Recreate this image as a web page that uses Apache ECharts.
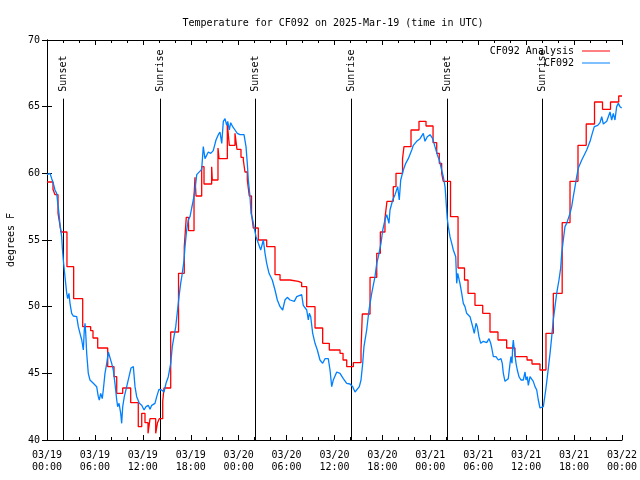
<!DOCTYPE html>
<html>
<head>
<meta charset="utf-8">
<script src="https://cdn.jsdelivr.net/npm/echarts@6/dist/echarts.min.js"></script>
<style>html,body{margin:0;padding:0;background:#fff}#c{width:640px;height:480px}</style>
</head>
<body>
<div id="c"></div>
<script>
// Hours since 2025-03-19 00:00 UTC
var analysisHours = [0,0.75,1.00,1.38,1.63,1.75,2.50,3.34,4.47,5.47,5.76,6.35,7.60,8.39,8.73,9.48,10.48,11.43,11.86,12.27,12.65,12.90,13.61,13.84,14.06,14.49,14.65,15.49,16.47,17.19,17.44,17.72,18.41,18.53,18.66,19.37,19.66,20.62,20.70,21.41,21.54,22.58,22.83,23.54,23.79,24.29,24.58,24.79,25.08,25.33,25.61,25.83,26.46,27.51,28.55,29.18,30.43,31.47,31.89,32.52,33.56,34.52,35.35,36.69,37.07,37.53,38.36,39.32,39.48,40.45,41.29,41.74,42.32,42.57,43.36,43.70,44.52,44.70,45.58,46.58,47.46,48.34,48.80,49.12,49.42,49.62,50.53,51.47,52.28,52.72,53.59,54.56,55.47,56.47,57.56,58.60,60.11,60.73,61.73,62.48,63.40,64.51,65.49,66.49,67.52,68.56,69.56,70.56,71.59,72.0];
var analysisTemps = [59.35,58.8,58.4,57.0,56.1,55.6,53.0,50.6,48.5,48.2,47.65,46.9,45.5,44.75,43.5,43.9,42.8,41.0,42.0,41.3,40.5,41.6,40.5,41.3,41.6,42.9,43.9,48.1,52.5,54.5,56.7,55.7,58.2,59.7,58.3,60.5,59.2,60.5,59.5,61.9,61.1,63.7,62.1,63.0,61.8,61.2,61.0,60.1,59.5,58.3,57.0,55.9,55.0,54.5,52.4,52.0,51.9,51.8,51.5,50.0,48.4,47.25,46.75,46.5,46.0,45.5,45.8,46.75,49.45,52.2,54.0,55.6,56.65,57.9,59.0,60.0,61.1,62.0,63.25,63.9,63.55,62.3,61.5,60.75,60.0,59.4,56.75,52.9,52.0,51.0,50.1,49.5,48.1,47.5,46.9,46.25,46.0,45.7,45.25,48.0,51.0,56.3,59.4,62.1,63.7,65.35,64.8,65.35,65.8,65.8];

var obsHours = [0,0.16,0.38,0.59,0.79,1.00,1.21,1.34,1.50,1.63,1.84,1.92,2.04,2.25,2.47,2.59,2.75,2.88,3.09,3.29,3.72,3.92,4.13,4.35,4.55,4.67,4.76,4.85,4.97,5.17,5.38,5.80,6.22,6.42,6.55,6.72,6.92,7.05,7.26,7.48,7.68,7.89,8.10,8.30,8.51,8.73,8.85,9.02,9.23,9.35,9.48,9.68,9.98,10.27,10.52,10.81,11.02,11.23,11.56,11.86,12.15,12.40,12.68,12.90,13.11,13.52,13.74,14.02,14.36,14.65,14.90,15.19,15.49,15.69,15.90,16.12,16.32,16.53,16.74,16.94,17.16,17.28,17.49,17.69,17.91,18.12,18.32,18.53,18.75,18.95,19.37,19.57,19.78,20.00,20.20,20.50,20.82,21.16,21.45,21.66,21.88,22.08,22.29,22.50,22.63,22.83,23.00,23.25,23.54,23.83,24.17,24.38,24.67,24.92,25.08,25.21,25.42,25.55,25.76,25.92,26.17,26.46,26.76,27.09,27.30,27.51,27.80,28.01,28.21,28.55,28.84,29.18,29.51,29.80,30.09,30.43,30.97,31.27,31.47,31.89,32.09,32.52,32.72,32.85,33.02,33.27,33.56,33.85,34.18,34.52,34.81,35.22,35.44,35.65,35.85,36.28,36.69,37.10,37.53,37.94,38.28,38.57,38.78,39.11,39.32,39.53,39.69,40.03,40.32,40.66,41.07,41.29,41.49,41.82,42.04,42.32,42.54,42.82,42.95,43.29,43.58,43.91,44.11,44.29,44.62,44.92,45.24,45.67,45.87,46.08,46.29,46.71,47.12,47.33,47.62,47.96,48.30,48.58,48.87,49.12,49.42,49.62,49.84,49.96,50.12,50.25,50.46,50.68,50.88,51.18,51.30,51.43,51.59,51.71,51.93,52.13,52.34,52.55,52.75,52.97,53.18,53.30,53.50,53.72,53.88,54.09,54.31,54.63,55.06,55.35,55.56,55.69,55.89,56.22,56.51,56.85,57.01,57.14,57.35,57.56,57.76,57.98,58.10,58.23,58.31,58.39,58.52,58.73,58.89,59.10,59.35,59.64,59.86,59.98,60.14,60.27,60.48,60.69,60.89,61.11,61.32,61.52,61.73,61.86,62.15,62.45,62.70,62.99,63.20,63.40,63.61,63.82,64.11,64.32,64.45,64.65,64.86,65.07,65.28,65.49,65.70,65.90,66.12,66.33,66.53,66.96,67.29,67.58,68.00,68.28,68.53,68.96,69.25,69.46,69.66,69.87,70.09,70.29,70.50,70.71,70.91,71.12,71.33,71.54,71.75,71.96,72.0];
var obsTemps = [59.9,60.05,60.0,59.6,59.25,58.75,58.5,57.8,57.0,56.1,55.25,54.4,53.5,52.25,51.0,50.6,51.0,50.25,49.5,49.3,49.25,48.5,48.0,47.5,46.75,48.25,48.75,48.0,46.5,45.0,44.5,44.25,44.0,43.25,43.0,43.5,43.1,43.75,45.0,45.75,46.6,46.5,45.75,45.25,44.25,43.0,42.5,42.75,42.0,41.25,42.5,43.25,44.0,44.75,45.4,45.5,44.0,43.25,42.75,42.6,42.25,42.5,42.6,42.3,42.6,42.75,43.25,43.8,43.75,43.6,44.25,44.75,45.75,47.0,47.75,48.5,49.6,50.75,51.75,52.5,53.5,54.5,55.75,56.5,56.75,57.4,58.0,58.75,59.9,59.95,60.3,62.0,61.1,61.0,61.6,61.5,61.7,62.5,62.9,63.1,62.25,63.9,64.1,63.6,63.9,63.25,63.8,63.5,63.25,63.0,62.9,63.0,62.9,62.0,60.75,59.5,58.25,57.0,56.5,56.0,55.25,54.75,54.25,55.0,54.0,53.25,52.5,52.6,52.0,51.25,50.5,50.0,49.75,50.5,50.7,50.5,50.4,50.75,50.9,50.9,50.1,49.75,49.0,49.5,49.25,48.0,47.25,46.75,46.0,45.75,46.1,46.1,45.25,44.0,44.5,45.1,45.0,44.6,44.25,44.2,44.0,43.6,43.5,44.0,44.5,45.75,47.0,48.25,49.75,51.0,52.25,53.25,53.75,54.75,55.75,56.5,56.9,56.25,57.25,58.0,58.4,59.0,58.0,59.5,60.25,60.75,61.1,61.75,62.1,62.0,62.4,62.6,63.0,62.4,62.75,62.9,62.6,62.0,61.4,61.0,60.25,59.75,59.0,58.0,56.6,56.0,55.25,54.75,54.25,53.75,51.75,52.5,52.4,51.75,51.0,50.25,50.0,49.5,49.4,49.25,49.4,48.5,48.0,48.75,48.5,47.75,47.25,47.4,47.3,47.6,47.25,46.9,46.25,46.25,46.0,46.1,45.75,45.0,44.4,44.5,44.6,45.75,46.25,45.75,47.0,47.5,46.75,45.75,45.25,44.75,44.5,44.5,45.1,44.5,44.75,44.1,44.75,44.6,44.4,44.0,43.75,43.0,42.4,42.3,42.5,43.75,45.0,46.5,47.75,49.0,50.0,51.0,52.0,52.9,54.0,55.0,56.0,56.25,56.4,57.0,57.5,58.25,59.0,59.75,60.4,61.0,61.4,61.75,62.4,63.0,63.5,63.6,63.8,64.25,63.7,63.55,63.9,64.25,64.6,64.0,64.5,64.0,65.0,65.25,65.0,64.9,64.9];

var sunEventHours = [2.05, 14.12, 26.08, 38.07, 50.11, 62.02];
var sunEventLabels = ['Sunset', 'Sunrise', 'Sunset', 'Sunrise', 'Sunset', 'Sunrise'];
var sunLineTop = 65.6;

var xTickLabels = ['03/19\n00:00','03/19\n06:00','03/19\n12:00','03/19\n18:00','03/20\n00:00','03/20\n06:00','03/20\n12:00','03/20\n18:00','03/21\n00:00','03/21\n06:00','03/21\n12:00','03/21\n18:00','03/22\n00:00'];

var FONT = 'DejaVu Sans Mono';

function zip(a, b) { return a.map(function (v, i) { return [v, b[i]]; }); }

var chart = echarts.init(document.getElementById('c'), null, { renderer: 'canvas' });

var xBase = {
  type: 'value', min: 0, max: 72, interval: 6,
  axisLine: { show: true, lineStyle: { color: '#000', width: 1 } },
  axisTick: { show: true, inside: true, length: 5, lineStyle: { color: '#000' } },
  minorTick: { show: true, splitNumber: 3, length: 3, lineStyle: { color: '#000' } },
  splitLine: { show: false }
};
var yBase = {
  type: 'value', min: 40, max: 70, interval: 5,
  axisLine: { show: true, lineStyle: { color: '#000', width: 1 } },
  axisTick: { show: true, inside: true, length: 5, lineStyle: { color: '#000' } },
  splitLine: { show: false }
};

var option = {
  animation: false,
  backgroundColor: '#fff',
  title: {
    text: 'Temperature for CF092 on 2025-Mar-19 (time in UTC)',
    left: 328, top: 13, textAlign: 'center',
    textStyle: { fontFamily: FONT, fontSize: 10, fontWeight: 'normal', color: '#000' }
  },
  legend: {
    orient: 'vertical', right: 30, top: 46, align: 'right', padding: 0,
    itemWidth: 28, itemHeight: 1, itemGap: 2, icon: 'rect',
    textStyle: { fontFamily: FONT, fontSize: 10, color: '#000', padding: [0, 3, 0, 0] },
    data: ['CF092 Analysis', 'CF092']
  },
  grid: { left: 47, right: 18, top: 40, bottom: 40, containLabel: false, outerBoundsMode: 'none' },
  xAxis: [
    Object.assign({}, xBase, {
      position: 'bottom',
      axisLabel: {
        show: true, margin: 9, fontFamily: FONT, fontSize: 10, color: '#000', lineHeight: 12,
        formatter: function (v) { return xTickLabels[Math.round(v / 6)]; }
      }
    }),
    Object.assign({}, xBase, { position: 'top', axisLabel: { show: false } })
  ],
  yAxis: [
    Object.assign({}, yBase, {
      position: 'left',
      name: 'degrees F', nameLocation: 'middle', nameGap: 31, nameRotate: 90,
      nameTextStyle: { fontFamily: FONT, fontSize: 10, color: '#000' },
      axisLabel: { show: true, margin: 7, fontFamily: FONT, fontSize: 10, color: '#000' }
    }),
    Object.assign({}, yBase, { position: 'right', axisLabel: { show: false } })
  ],
  series: [
    {
      type: 'custom', name: 'sun', silent: true, z: 1,
      xAxisIndex: 0, yAxisIndex: 0,
      data: sunEventHours.map(function (h, i) { return [h, i]; }),
      renderItem: function (params, api) {
        var h = api.value(0);
        var i = api.value(1);
        var top = api.coord([h, sunLineTop]);
        var bot = api.coord([h, 40]);
        var px = Math.round(top[0]) + 0.5;
        return {
          type: 'group',
          children: [
            { type: 'line', shape: { x1: px, y1: top[1], x2: px, y2: bot[1] }, style: { stroke: '#000', lineWidth: 1 } },
            { type: 'text', x: px, y: top[1] - 7, rotation: Math.PI / 2,
              style: { text: sunEventLabels[i], fill: '#000', font: '10px ' + FONT, align: 'left', verticalAlign: 'middle' } }
          ]
        };
      }
    },
    {
      type: 'line', name: 'CF092 Analysis', step: 'end', symbol: 'none', z: 3,
      data: zip(analysisHours, analysisTemps),
      lineStyle: { color: '#ff0000', width: 1.3 }, itemStyle: { color: '#ff0000' }
    },
    {
      type: 'line', name: 'CF092', symbol: 'none', z: 4,
      data: zip(obsHours, obsTemps),
      lineStyle: { color: '#0080ff', width: 1.3 }, itemStyle: { color: '#0080ff' }
    }
  ]
};
chart.setOption(option);
</script>
</body>
</html>
